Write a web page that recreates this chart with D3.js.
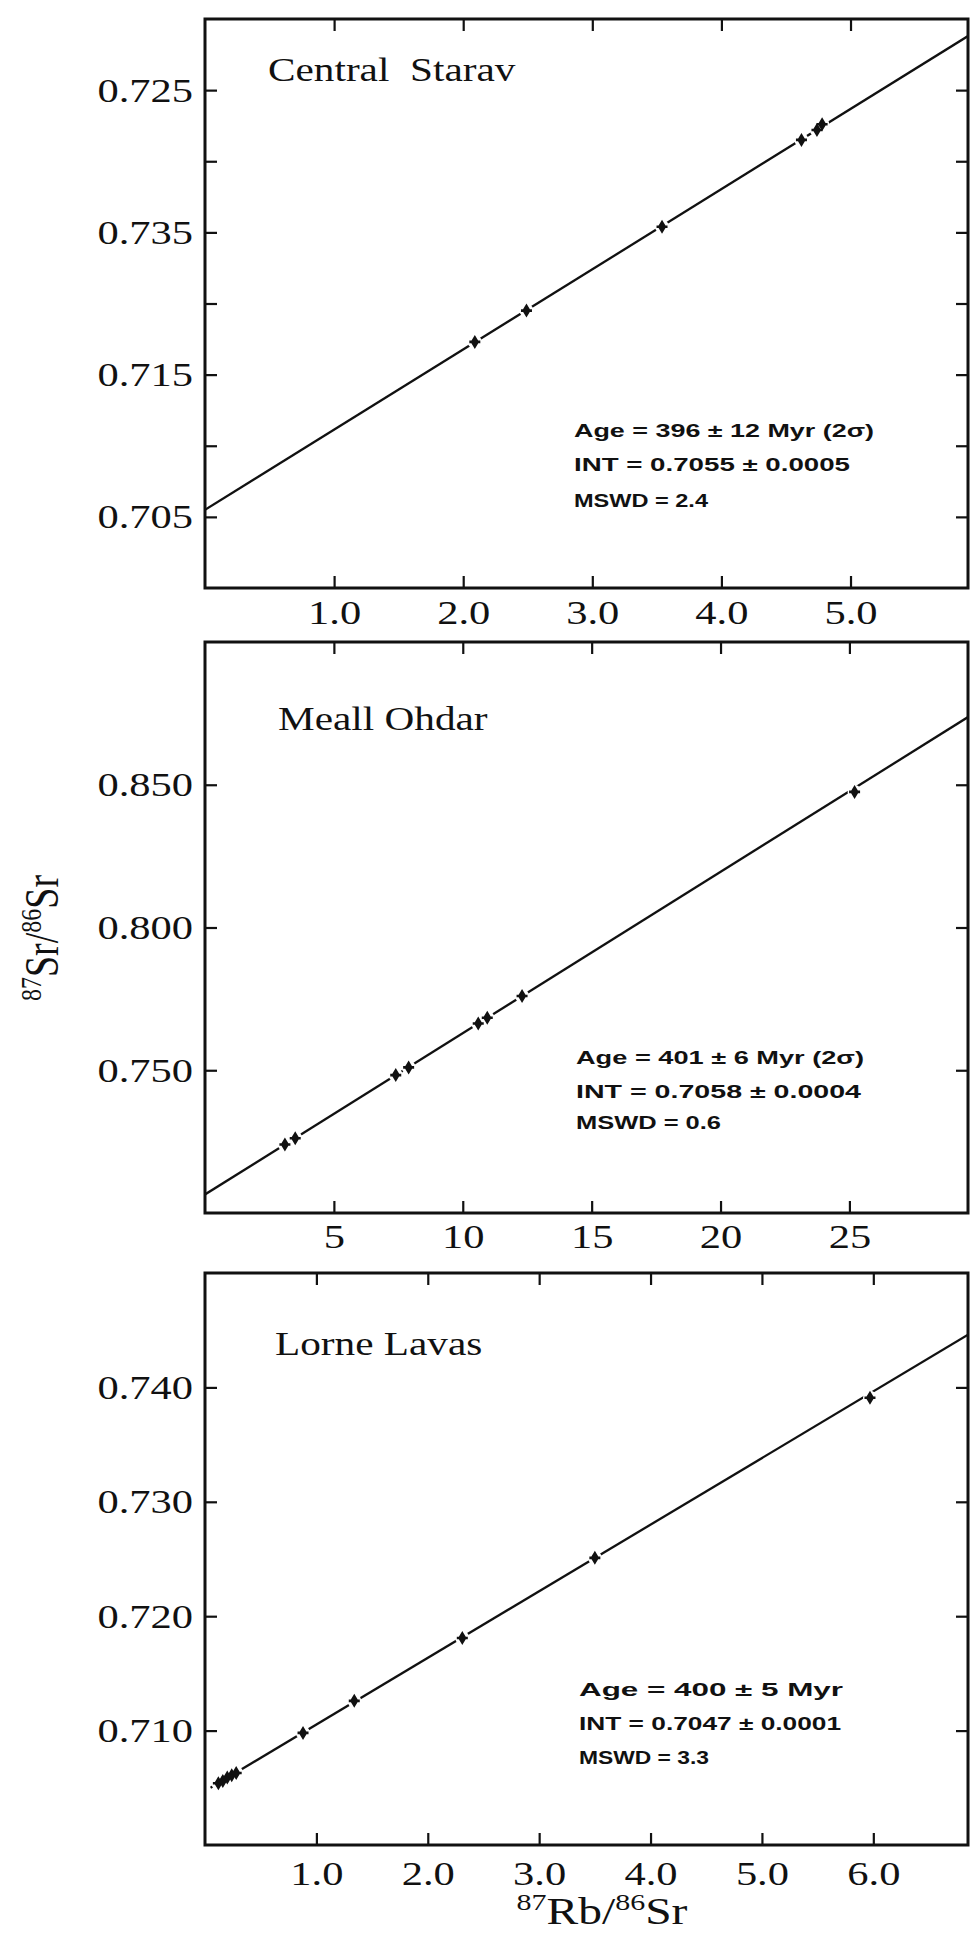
<!DOCTYPE html>
<html>
<head>
<meta charset="utf-8">
<script src="https://cdn.jsdelivr.net/npm/d3@7"></script>
<style>
html,body{margin:0;padding:0;background:#fff;}
svg{display:block;}
</style>
</head>
<body>
<svg id="chart" width="971" height="1940"></svg>
<script>
// ---------------- DATA ----------------
const panelNames = ["Central  Starav", "Meall Ohdar", "Lorne Lavas"];

// Central Starav
const starav_x = [2.09, 2.49, 3.54, 4.62, 4.74, 4.78];
const starav_y = [0.7173, 0.7195, 0.7254, 0.7315, 0.7322, 0.7326];
const starav_line_x = [0, 5.91];
const starav_line_y = [0.7055, 0.7388];
const starav_xdomain = [0, 5.91];
const starav_ydomain = [0.700, 0.740];
const starav_xticks = [1, 2, 3, 4, 5];
const starav_xlabels = ["1.0", "2.0", "3.0", "4.0", "5.0"];
const starav_yticks = [0.705, 0.710, 0.715, 0.720, 0.725, 0.730, 0.735];
const starav_ylabels = ["0.705", "", "0.715", "", "0.735", "", "0.725"]; // as printed
const starav_stats = ["Age = 396 ± 12 Myr (2σ)", "INT = 0.7055 ± 0.0005", "MSWD = 2.4"];

// Meall Ohdar
const ohdar_x = [3.1, 3.5, 7.4, 7.9, 10.6, 10.95, 12.3, 25.2];
const ohdar_y = [0.7240, 0.7262, 0.7483, 0.7510, 0.7664, 0.7684, 0.7760, 0.8475];
const ohdar_line_x = [0, 29.6];
const ohdar_line_y = [0.7065, 0.8737];
const ohdar_xdomain = [0, 29.6];
const ohdar_ydomain = [0.700, 0.900];
const ohdar_xticks = [5, 10, 15, 20, 25];
const ohdar_xlabels = ["5", "10", "15", "20", "25"];
const ohdar_yticks = [0.750, 0.800, 0.850];
const ohdar_ylabels = ["0.750", "0.800", "0.850"];
const ohdar_stats = ["Age = 401 ± 6 Myr (2σ)", "INT = 0.7058 ± 0.0004", "MSWD = 0.6"];

// Lorne Lavas
const lorne_x = [0.12, 0.16, 0.20, 0.24, 0.28, 0.88, 1.34, 2.31, 3.50, 5.97];
const lorne_y = [0.7054, 0.7056, 0.7059, 0.7061, 0.7063, 0.7098, 0.7126, 0.7181, 0.7251, 0.7391];
const lorne_line_x = [0.05, 6.85];
const lorne_line_y = [0.7050, 0.7446];
const lorne_xdomain = [0, 6.85];
const lorne_ydomain = [0.700, 0.750];
const lorne_xticks = [1, 2, 3, 4, 5, 6];
const lorne_xlabels = ["1.0", "2.0", "3.0", "4.0", "5.0", "6.0"];
const lorne_yticks = [0.710, 0.720, 0.730, 0.740];
const lorne_ylabels = ["0.710", "0.720", "0.730", "0.740"];
const lorne_stats = ["Age = 400 ± 5 Myr", "INT = 0.7047 ± 0.0001", "MSWD = 3.3"];

// ---------------- LAYOUT ----------------
const svg = d3.select("#chart");
const L = 205, R = 968;
const SX = 1.25; // horizontal stretch of lettering in the reference
const serif = "'Liberation Serif','Times New Roman',Times,serif";
const sans = "'Liberation Sans',Arial,Helvetica,sans-serif";
const INK = "#111";

const panels = [
  {name: panelNames[0], px: starav_x, py: starav_y, lx: starav_line_x, ly: starav_line_y,
   xdom: starav_xdomain, ydom: starav_ydomain, xt: starav_xticks, xl: starav_xlabels,
   yt: starav_yticks, yl: starav_ylabels, stats: starav_stats,
   top: 19, bottom: 588, titleX: 268, titleY: 81, statX: 574, statY: [437, 471, 507],
   statW: [300, 276, 134], xlabY: 36},
  {name: panelNames[1], px: ohdar_x, py: ohdar_y, lx: ohdar_line_x, ly: ohdar_line_y,
   xdom: ohdar_xdomain, ydom: ohdar_ydomain, xt: ohdar_xticks, xl: ohdar_xlabels,
   yt: ohdar_yticks, yl: ohdar_ylabels, stats: ohdar_stats,
   top: 642, bottom: 1213, titleX: 278, titleY: 730, statX: 576, statY: [1064, 1098, 1129],
   statW: [288, 285, 145], xlabY: 35},
  {name: panelNames[2], px: lorne_x, py: lorne_y, lx: lorne_line_x, ly: lorne_line_y,
   xdom: lorne_xdomain, ydom: lorne_ydomain, xt: lorne_xticks, xl: lorne_xlabels,
   yt: lorne_yticks, yl: lorne_ylabels, stats: lorne_stats,
   top: 1273, bottom: 1845, titleX: 275, titleY: 1355, statX: 579, statY: [1696, 1730, 1764],
   statW: [264, 262, 130], xlabY: 40}
];

svg.append("rect").attr("width", 971).attr("height", 1940).attr("fill", "#fff");

panels.forEach((p, i) => {
  const x = d3.scaleLinear().domain(p.xdom).range([L, R]);
  const y = d3.scaleLinear().domain(p.ydom).range([p.bottom, p.top]);
  const g = svg.append("g");
  const cid = "clip" + i;
  svg.append("clipPath").attr("id", cid).append("rect")
    .attr("x", L).attr("y", p.top).attr("width", R - L).attr("height", p.bottom - p.top);

  // isochron line
  g.append("line").attr("clip-path", `url(#${cid})`)
    .attr("x1", x(p.lx[0])).attr("y1", y(p.ly[0]))
    .attr("x2", x(p.lx[1])).attr("y2", y(p.ly[1]))
    .attr("stroke", INK).attr("stroke-width", 2.3);

  // data points (line broken around each symbol)
  const pts = p.px.map((v, j) => [v, p.py[j]]);
  g.append("g").selectAll("circle").data(pts).join("circle")
    .attr("cx", d => x(d[0])).attr("cy", d => y(d[1])).attr("r", 7).attr("fill", "#fff");
  g.append("g").selectAll("path").data(pts).join("path")
    .attr("transform", d => `translate(${x(d[0])},${y(d[1])})`)
    .attr("d", "M0,-7L4.2,0L0,7L-4.2,0Z M-5.5,-1.3H5.5V1.3H-5.5Z")
    .attr("fill", INK);

  // axes (ticks inward on all four sides)
  const ax = (gen, tx, ty) => g.append("g").attr("transform", `translate(${tx},${ty})`).call(gen);
  const left = ax(d3.axisLeft(y).tickValues(p.yt).tickSize(-12).tickPadding(12)
                    .tickFormat((d, j) => p.yl[j]), L, 0);
  const right = ax(d3.axisRight(y).tickValues(p.yt).tickSize(-12).tickFormat(""), R, 0);
  const topA = ax(d3.axisTop(x).tickValues(p.xt).tickSize(-12).tickFormat(""), 0, p.top);
  const bot = ax(d3.axisBottom(x).tickValues(p.xt).tickSize(-12)
                   .tickFormat((d, j) => p.xl[j]), 0, p.bottom);
  [left, right, topA, bot].forEach(a => {
    a.select(".domain").remove();
    a.selectAll(".tick line").attr("stroke", INK).attr("stroke-width", 2.2);
  });
  left.selectAll("text")
    .attr("font-family", serif).attr("font-size", 34).attr("fill", INK)
    .attr("x", -12 / SX).attr("transform", `scale(${SX},1)`);
  bot.selectAll("text")
    .attr("font-family", serif).attr("font-size", 34).attr("fill", INK)
    .attr("y", p.xlabY).attr("dy", "0").attr("transform", `scale(${SX},1)`);

  // frame
  g.append("rect").attr("x", L).attr("y", p.top)
    .attr("width", R - L).attr("height", p.bottom - p.top)
    .attr("fill", "none").attr("stroke", INK).attr("stroke-width", 3);

  // panel title
  g.append("text")
    .attr("transform", `translate(${p.titleX},${p.titleY}) scale(${SX},1)`)
    .attr("font-family", serif).attr("font-size", 33).attr("fill", INK)
    .style("white-space", "pre")
    .text(p.name);

  // regression statistics
  p.stats.forEach((s, j) => {
    g.append("text")
      .attr("x", p.statX).attr("y", p.statY[j])
      .attr("textLength", p.statW[j]).attr("lengthAdjust", "spacingAndGlyphs")
      .attr("font-family", sans).attr("font-weight", "bold")
      .attr("font-size", 18).attr("fill", INK)
      .text(s);
  });
});

// axis titles
function isoTitle(sel, a, b) {
  sel.append("tspan").attr("font-size", 24).attr("dy", -14).text("87");
  sel.append("tspan").attr("dy", 14).text(a + "/");
  sel.append("tspan").attr("font-size", 24).attr("dy", -14).text("86");
  sel.append("tspan").attr("dy", 14).text(b);
}
const xt = svg.append("text")
  .attr("transform", `translate(602,1924) scale(${SX},1)`)
  .attr("text-anchor", "middle")
  .attr("font-family", serif).attr("font-size", 38).attr("fill", INK);
isoTitle(xt, "Rb", "Sr");

const yt = svg.append("text")
  .attr("transform", `translate(58,938) scale(${SX},1) rotate(-90)`)
  .attr("text-anchor", "middle")
  .attr("font-family", serif).attr("font-size", 38).attr("fill", INK);
isoTitle(yt, "Sr", "Sr");
</script>
</body>
</html>
